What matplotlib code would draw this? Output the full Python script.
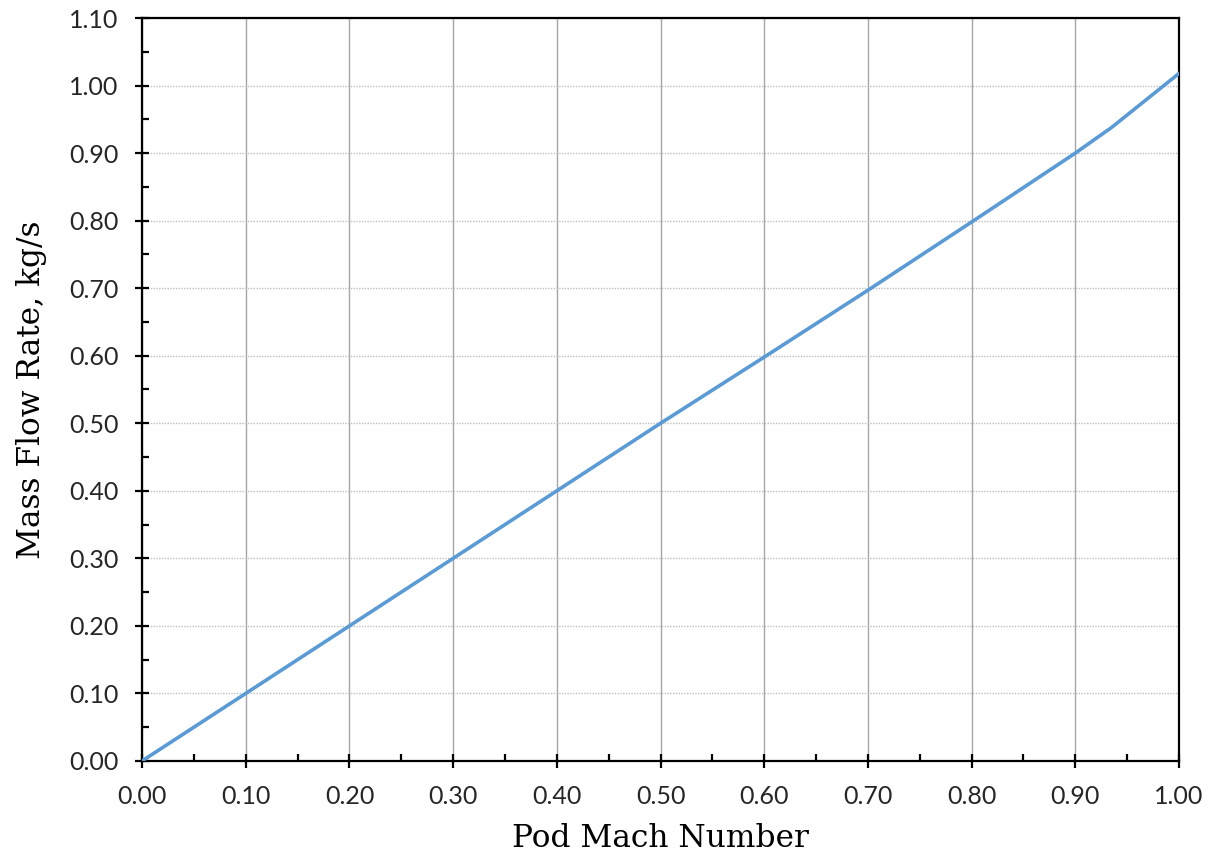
import matplotlib.pyplot as plt
import numpy as np
from matplotlib.ticker import MultipleLocator, FormatStrFormatter

# Pod Mach number vs mass flow rate
mach = [0.0, 0.10, 0.20, 0.30, 0.40, 0.50, 0.60, 0.70, 0.80, 0.90, 0.935, 1.00]
mdot = [0.0, 0.100, 0.200, 0.300, 0.400, 0.500, 0.598, 0.697, 0.798, 0.900, 0.938, 1.018]

fig = plt.figure(figsize=(12.1, 8.58), dpi=100)
ax = fig.add_axes([0.1174, 0.1131, 0.8570, 0.8659])

ax.plot(mach, mdot, color='#5B9BD5', lw=2.6, solid_capstyle='round', zorder=3)

ax.set_xlim(0, 1.0)
ax.set_ylim(0, 1.10)
ax.xaxis.set_major_locator(MultipleLocator(0.10))
ax.xaxis.set_minor_locator(MultipleLocator(0.05))
ax.yaxis.set_major_locator(MultipleLocator(0.10))
ax.yaxis.set_minor_locator(MultipleLocator(0.05))
ax.xaxis.set_major_formatter(FormatStrFormatter('%.2f'))
ax.yaxis.set_major_formatter(FormatStrFormatter('%.2f'))

ax.grid(axis='x', which='major', color='#a6a6a6', lw=1.0, ls='-')
ax.grid(axis='y', which='major', color='#bfbfbf', lw=1.0, ls=(0, (1, 1)))
ax.set_axisbelow(True)

for s in ax.spines.values():
    s.set_linewidth(1.6)
    s.set_color('black')

ax.tick_params(which='major', direction='inout', length=10, width=1.6,
               labelsize=18, labelcolor='#262626', pad=12)
ax.tick_params(axis='y', which='major', pad=12)
ax.tick_params(which='minor', direction='in', length=5, width=1.6)
for lab in ax.get_xticklabels() + ax.get_yticklabels():
    lab.set_family('Lato')

ax.set_xlabel('Pod Mach Number', family='DejaVu Serif', fontsize=22.5, labelpad=11)
ax.set_ylabel('Mass Flow Rate, kg/s', family='DejaVu Serif', fontsize=22.5, labelpad=16)

fig.savefig('out.png', dpi=100)
